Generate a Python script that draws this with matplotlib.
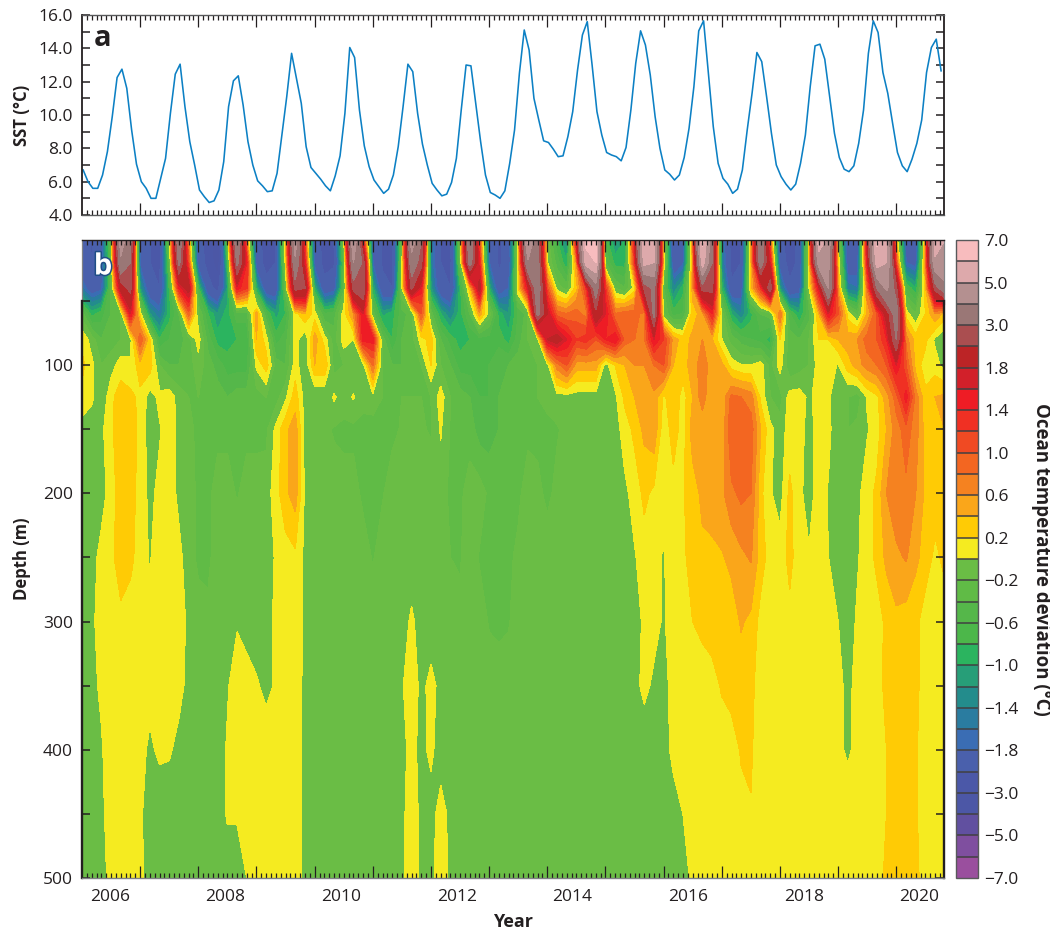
import numpy as np
import matplotlib
matplotlib.use("Agg")
import matplotlib.pyplot as plt
import matplotlib.patheffects as pe
from matplotlib.lines import Line2D
from matplotlib.ticker import FixedLocator

plt.rcParams['font.family'] = ['Open Sans', 'DejaVu Sans']

sst = [6.7, 6.0, 5.6, 5.6, 6.4, 7.8, 9.9, 12.25, 12.75, 11.6, 9.1, 7.05,
       6.0, 5.6, 5.0, 5.0, 6.2, 7.4, 10.1, 12.45, 13.05, 10.5, 8.4, 7.0,
       5.5, 5.1, 4.75, 4.85, 5.5, 7.2, 10.5, 12.05, 12.35, 10.6, 8.4, 7.0,
       6.05, 5.75, 5.4, 5.45, 6.5, 8.8, 11.1, 13.7, 12.2, 10.7, 8.1, 6.85,
       6.5, 6.15, 5.75, 5.45, 6.35, 7.55, 10.1, 14.05, 13.45, 10.3, 8.15, 6.9,
       6.1, 5.7, 5.3, 5.55, 6.4, 8.1, 10.5, 13.05, 12.6, 10.1, 8.25, 7.0,
       5.9, 5.5, 5.15, 5.25, 5.95, 7.4, 10.3, 13.0, 12.95, 10.7, 8.4, 6.4,
       5.35, 5.2, 5.0, 5.45, 7.1, 9.1, 12.5, 15.1, 13.9, 11.0, 9.7, 8.45,
       8.35, 7.95, 7.5, 7.55, 8.7, 10.2, 12.7, 14.8, 15.6, 13.0, 10.2, 8.8,
       7.75, 7.6, 7.5, 7.25, 8.05, 10.3, 13.1, 15.05, 14.2, 12.4, 9.9, 8.0,
       6.7, 6.45, 6.1, 6.4, 7.45, 9.2, 11.7, 15.05, 15.65, 12.5, 9.3, 7.1,
       6.2, 5.85, 5.3, 5.55, 6.7, 9.1, 11.3, 13.75, 13.2, 11.1, 8.9, 7.0,
       6.3, 5.85, 5.5, 5.85, 7.1, 8.8, 11.7, 14.15, 14.25, 13.35, 11.1, 8.9,
       7.45, 6.75, 6.6, 6.95, 8.3, 10.3, 13.7, 15.65, 14.95, 12.55, 11.3, 9.5,
       7.75, 6.95, 6.6, 7.35, 8.3, 9.7, 12.55, 14.05, 14.55, 12.65]

depths = [2.5, 20, 40, 60, 80, 100, 125, 150, 200, 250, 300, 350, 400, 450, 500]

# two-monthly columns, one list per depth
d3 = [-2.0, -2.5, -2.0, -0.3, 4.5, 3.2, -2.0, -2.4, -2.6, -0.2,
      3.8, 0.5, -2.2, -2.6, -3.5, -0.3, 4.0, 0.6, -2.2, -2.6,
      -2.4, 0.3, 4.5, 1.0, -2.1, -2.6, -2.4, -0.1, 5.0, 1.4,
      -1.9, -2.5, -2.6, -0.2, 4.5, 3.0, -1.5, -2.4, -2.6, -0.1,
      3.8, 1.0, -1.9, -2.5, -2.2, 0.2, 5.2, 3.0, -0.1, -0.8,
      -1.4, 1.6, 6.3, 6.5, -0.7, -1.2, -1.0, 1.5, 6.0, 5.5,
      0.0, -2.3, -2.0, 0.6, 6.2, 3.2, -1.5, -2.6, -2.4, 0.3,
      4.0, 0.8, -2.3, -2.6, -2.3, 0.2, 5.5, 4.8, 0.0, -2.3,
      -2.2, 1.8, 6.2, 5.0, 0.3, -2.0, -2.2, 0.5, 5.5, 5.0]
d20 = [-2.2, -2.4, -2.1, -0.3, 3.8, 3.0, -1.9, -2.4, -2.6, -0.4,
       3.2, 1.0, -2.1, -2.6, -3.4, -0.8, 3.2, 1.4, -2.1, -2.6,
       -2.4, 0.1, 3.8, 1.4, -2.0, -2.6, -2.5, -0.5, 4.0, 2.8,
       -1.8, -2.5, -2.6, -0.1, 3.6, 2.6, -1.5, -2.4, -2.6, -0.3,
       3.4, 1.4, -1.8, -2.5, -2.2, 0.1, 3.8, 3.4, 0.0, -0.5,
       -1.0, 0.6, 5.5, 6.0, -0.4, -0.9, -0.9, 1.2, 5.3, 5.0,
       0.2, -2.2, -1.9, 0.5, 5.5, 3.0, -1.4, -2.6, -2.4, 0.3,
       3.5, 1.5, -2.1, -2.6, -2.3, 0.2, 4.5, 4.2, 0.2, -2.1,
       -2.0, 1.5, 5.5, 5.0, 1.0, -1.8, -2.0, 0.6, 4.8, 5.0]
d40 = [-1.6, -2.1, -1.9, -0.4, 2.0, 2.6, -1.2, -2.2, -2.4, -0.8,
       1.4, 2.0, -0.8, -2.2, -2.6, -1.2, 1.5, 1.2, -1.0, -2.2,
       -2.2, -0.3, 2.6, 2.4, -1.0, -2.2, -2.0, -0.5, 2.6, 3.0,
       -1.0, -2.2, -2.4, 0.0, 2.5, 1.5, -1.2, -2.2, -2.4, -0.9,
       0.3, 2.0, -1.0, -2.2, -1.8, 0.2, 1.6, 3.6, 1.0, -0.1,
       -0.3, 0.3, 1.2, 3.5, 1.2, -0.2, -0.4, 0.1, 2.5, 3.2,
       -0.4, -1.4, -0.9, 0.5, 2.6, 2.6, -0.9, -2.3, -2.1, 0.3,
       1.2, 2.8, -1.2, -2.3, -2.0, 0.0, 1.6, 4.0, 0.5, -1.5,
       -1.6, 0.8, 3.0, 4.2, 2.5, -0.6, -1.0, 0.3, 2.6, 3.6]
d60 = [-0.3, -0.9, -0.7, -0.4, -0.2, 1.6, 0.1, -1.2, -1.6, -0.9,
       -0.4, 0.9, -0.2, -0.8, -1.2, -0.9, -0.5, -0.5, 0.5, -0.6,
       -1.1, -0.8, 0.1, 0.4, 0.1, -0.6, -0.5, 0.1, 0.6, 1.6,
       -0.3, -1.1, -0.9, -0.5, -0.3, 1.0, -0.3, -1.0, -1.4, -0.9,
       -0.4, 0.5, -0.1, -0.9, -1.2, -0.6, -0.3, 3.2, 1.8, 0.9,
       0.8, 0.9, 0.7, 2.2, 1.6, 0.8, 0.9, 0.9, 0.7, 3.2,
       -0.2, -0.7, -0.6, 0.3, 0.5, 1.4, -0.1, -1.0, -1.4, -0.9,
       -0.4, -0.3, 0.8, -0.6, -1.0, -0.5, 0.4, 1.6, 1.0, 0.1,
       -0.3, 0.4, 1.0, 2.0, 3.5, 0.1, -0.2, 0.2, 0.6, 0.3]
d80 = [0.15, -0.1, -0.4, -0.3, -0.2, -0.1, 1.0, 0.2, -0.8, -0.6,
       -0.5, -0.3, 0.1, -0.5, -0.9, -0.9, -0.8, -0.8, 0.4, 0.1,
       -0.7, -0.5, 0.1, -0.2, 0.5, 0.1, -0.3, 0.1, 0.0, 1.5,
       1.5, -0.3, -0.8, -0.4, -0.3, 0.1, 0.3, -0.4, -0.7, -0.9,
       -0.8, -0.7, -0.7, -0.7, -0.9, -0.5, -0.2, -0.1, 1.8, 2.0,
       1.6, 1.2, 1.3, 1.0, 1.4, 1.6, 0.9, 0.8, 0.8, 1.6,
       1.2, 0.5, 0.3, 0.45, 0.6, 0.4, 0.0, -0.3, -0.5, -0.6,
       -0.7, -0.9, 0.2, -0.3, -0.4, -0.2, 0.2, 0.2, 0.4, 0.5,
       0.6, 0.9, 1.0, 1.4, 3.0, 0.7, 0.3, 0.25, -0.05, -0.2]
d100 = [0.25, 0.05, -0.2, -0.1, 0.1, 0.05, 0.3, 0.3, -0.2, -0.4,
        -0.4, -0.3, -0.1, -0.3, -0.5, -0.7, -0.7, -0.7, 0.05, 0.3,
        -0.3, -0.4, 0.1, -0.2, 0.4, 0.4, -0.3, -0.2, -0.2, -0.1,
        0.8, -0.2, -0.4, -0.4, -0.3, -0.2, 0.2, -0.2, -0.4, -0.7,
        -0.7, -0.8, -0.6, -0.4, -0.4, -0.3, -0.2, -0.2, -0.1, 0.7,
        1.0, 0.5, 0.5, 0.5, -0.1, 0.2, 0.4, 0.6, 0.6, 0.8,
        1.0, 0.4, 0.3, 0.5, 0.7, 0.5, 0.45, 0.1, 0.0, 0.0,
        0.1, -0.3, 0.1, -0.4, -0.3, -0.2, 0.1, 0.1, -0.02, 0.3,
        0.5, 0.7, 0.8, 1.0, 1.6, 1.0, 0.3, 0.1, 0.1, -0.1]
d125 = [0.15, 0.05, -0.2, 0.15, 0.3, 0.25, 0.15, -0.1, 0.05, 0.12,
        -0.1, -0.2, -0.2, -0.3, -0.3, -0.4, -0.3, -0.3, -0.3, -0.2,
        -0.3, -0.05, 0.3, -0.1, -0.2, -0.2, 0.03, -0.1, 0.02, -0.15,
        -0.1, -0.2, -0.2, -0.2, -0.2, -0.2, -0.2, 0.1, -0.2, -0.3,
        -0.4, -0.6, -0.6, -0.4, -0.3, -0.25, -0.2, -0.2, -0.15, -0.1,
        -0.1, -0.1, -0.1, -0.1, -0.1, -0.05, 0.25, 0.4, 0.5, 0.55,
        0.15, 0.35, 0.1, 0.4, 0.7, 0.4, 0.45, 0.85, 0.8, 0.7,
        0.15, -0.2, -0.3, 0.1, 0.1, -0.05, 0.1, 0.02, -0.1, -0.2,
        -0.3, 0.02, 0.15, 0.5, 0.9, 1.5, 0.7, 0.25, 0.4, 0.45]
d150 = [-0.1, -0.15, -0.05, 0.15, 0.35, 0.35, 0.12, -0.1, -0.02, 0.1,
        -0.05, -0.15, -0.25, -0.25, -0.25, -0.25, -0.25, -0.25, -0.25, -0.25,
        0.05, 0.35, 0.5, -0.1, -0.18, -0.16, -0.22, -0.25, -0.25, -0.25,
        -0.28, -0.28, -0.25, -0.18, -0.15, -0.18, -0.22, 0.02, -0.22, -0.25,
        -0.3, -0.5, -0.5, -0.4, -0.3, -0.25, -0.25, -0.25, -0.25, -0.22,
        -0.15, -0.15, -0.15, -0.15, -0.15, -0.1, 0.1, 0.25, 0.45, 0.55,
        0.05, 0.3, 0.1, 0.5, 0.45, 0.45, 0.4, 1.0, 0.9, 0.9,
        0.4, 0.05, -0.1, 0.08, 0.1, -0.1, 0.1, 0.05, -0.15, -0.2,
        -0.15, -0.02, 0.1, 0.4, 0.7, 0.9, 0.7, 0.3, 0.3, 0.4]
d200 = [-0.05, -0.1, -0.1, 0.1, 0.3, 0.3, 0.1, -0.05, 0.05, 0.1,
        -0.05, -0.1, -0.25, -0.25, -0.12, -0.12, -0.22, -0.12, -0.12, -0.1,
        0.1, 0.35, 0.5, -0.05, -0.1, -0.12, -0.12, -0.12, -0.12, -0.25,
        -0.25, -0.22, -0.1, -0.1, -0.1, -0.1, -0.1, -0.1, -0.25, -0.25,
        -0.1, -0.1, -0.25, -0.3, -0.25, -0.25, -0.1, -0.15, -0.25, -0.15,
        -0.1, -0.1, -0.1, -0.1, -0.1, -0.1, -0.05, 0.08, 0.25, 0.15,
        0.1, 0.12, 0.18, 0.3, 0.45, 0.5, 0.55, 0.75, 0.85, 0.8,
        0.25, 0.02, -0.1, 0.25, 0.05, -0.1, 0.1, -0.02, -0.1, -0.1,
        -0.05, 0.1, 0.25, 0.6, 0.75, 0.75, 0.6, 0.35, 0.3, 0.3]
d250 = [-0.1, -0.1, 0.08, 0.15, 0.3, 0.25, 0.1, -0.02, 0.12, 0.12,
        0.05, -0.1, -0.25, -0.25, -0.1, -0.1, -0.1, -0.1, -0.1, -0.1,
        0.02, 0.1, 0.15, -0.05, -0.1, -0.1, -0.1, -0.1, -0.1, -0.1,
        -0.22, -0.1, -0.1, -0.1, -0.1, -0.1, -0.1, -0.1, -0.2, -0.22,
        -0.1, -0.22, -0.22, -0.25, -0.25, -0.15, -0.1, -0.1, -0.1, -0.1,
        -0.1, -0.1, -0.1, -0.1, -0.1, -0.1, -0.1, -0.02, 0.1, 0.05,
        -0.02, 0.12, 0.15, 0.3, 0.35, 0.35, 0.38, 0.45, 0.55, 0.62,
        0.3, 0.1, 0.1, 0.25, 0.1, 0.02, 0.1, 0.0, -0.1, -0.1,
        -0.02, 0.1, 0.25, 0.45, 0.55, 0.62, 0.45, 0.3, 0.15, 0.25]
d300 = [-0.1, -0.05, 0.1, 0.2, 0.15, 0.1, 0.1, 0.05, 0.1, 0.1,
        0.1, -0.05, -0.1, -0.15, -0.1, -0.05, -0.02, -0.1, -0.1, -0.1,
        0.05, 0.1, 0.12, -0.05, -0.1, -0.1, -0.1, -0.1, -0.1, -0.1,
        -0.1, -0.1, -0.1, -0.08, 0.03, -0.08, -0.1, -0.05, -0.15, -0.15,
        -0.15, -0.1, -0.22, -0.25, -0.22, -0.1, -0.1, -0.1, -0.1, -0.1,
        -0.1, -0.1, -0.1, -0.1, -0.1, -0.1, -0.1, -0.05, 0.02, 0.05,
        -0.02, 0.08, 0.12, 0.2, 0.25, 0.3, 0.35, 0.3, 0.42, 0.35,
        0.12, 0.1, 0.1, 0.15, 0.1, 0.1, 0.1, 0.08, 0.0, -0.1,
        0.03, 0.1, 0.1, 0.25, 0.35, 0.3, 0.25, 0.1, 0.1, 0.1]
d350 = [-0.1, -0.05, 0.03, 0.1, 0.1, 0.1, 0.1, 0.05, 0.1, 0.1,
        0.05, -0.05, -0.1, -0.1, -0.05, -0.02, 0.1, 0.1, 0.02, -0.05,
        0.02, 0.1, 0.1, -0.05, -0.1, -0.1, -0.1, -0.1, -0.1, -0.1,
        -0.1, -0.1, -0.1, -0.02, 0.1, -0.05, 0.05, -0.05, -0.1, -0.1,
        -0.1, -0.1, -0.1, -0.1, -0.1, -0.1, -0.1, -0.1, -0.1, -0.1,
        -0.1, -0.1, -0.1, -0.1, -0.1, -0.1, -0.1, -0.05, 0.04, -0.03,
        -0.05, 0.05, 0.1, 0.1, 0.1, 0.12, 0.22, 0.28, 0.3, 0.25,
        0.1, 0.1, 0.1, 0.1, 0.1, 0.1, 0.1, 0.1, 0.05, -0.05,
        0.06, 0.1, 0.12, 0.25, 0.3, 0.3, 0.25, 0.1, 0.1, 0.1]
d400 = [-0.1, -0.1, -0.02, 0.1, 0.1, 0.1, 0.05, -0.03, 0.03, 0.02,
        -0.05, -0.1, -0.1, -0.1, -0.1, 0.02, 0.1, 0.1, 0.1, 0.1,
        0.1, 0.1, 0.1, -0.05, -0.1, -0.1, -0.1, -0.1, -0.1, -0.1,
        -0.1, -0.1, -0.1, -0.05, 0.05, -0.05, 0.04, -0.1, -0.1, -0.1,
        -0.1, -0.1, -0.1, -0.1, -0.1, -0.1, -0.1, -0.1, -0.1, -0.1,
        -0.1, -0.1, -0.1, -0.1, -0.1, -0.1, -0.1, -0.1, -0.1, -0.1,
        -0.05, 0.03, 0.1, 0.1, 0.1, 0.1, 0.1, 0.1, 0.22, 0.22,
        0.1, 0.1, 0.1, 0.1, 0.1, 0.1, 0.1, 0.1, 0.04, -0.03,
        0.05, 0.08, 0.12, 0.2, 0.3, 0.3, 0.22, 0.1, 0.1, 0.1]
d450 = [-0.1, -0.1, -0.05, 0.1, 0.1, 0.1, 0.03, -0.1, -0.1, -0.1,
        -0.1, -0.1, -0.1, -0.1, -0.1, 0.02, 0.02, 0.05, 0.1, 0.1,
        0.1, 0.1, 0.1, -0.05, -0.1, -0.1, -0.1, -0.1, -0.1, -0.1,
        -0.1, -0.1, -0.1, -0.05, 0.1, -0.05, -0.08, 0.08, -0.05, -0.1,
        -0.1, -0.1, -0.1, -0.1, -0.1, -0.1, -0.1, -0.1, -0.1, -0.1,
        -0.1, -0.1, -0.1, -0.1, -0.1, -0.1, -0.1, -0.1, -0.1, -0.1,
        -0.1, -0.05, 0.0, 0.1, 0.1, 0.1, 0.1, 0.1, 0.14, 0.19,
        0.1, 0.1, 0.1, 0.1, 0.1, 0.1, 0.1, 0.1, 0.1, 0.1,
        0.1, 0.1, 0.12, 0.2, 0.3, 0.3, 0.22, 0.1, 0.1, 0.1]
d500 = [-0.1, -0.1, -0.1, 0.08, 0.1, 0.1, 0.04, -0.08, -0.1, -0.1,
        -0.1, -0.1, -0.1, -0.1, -0.1, -0.1, -0.1, 0.0, 0.1, 0.1,
        0.1, 0.1, 0.1, -0.05, -0.1, -0.1, -0.1, -0.1, -0.1, -0.1,
        -0.1, -0.1, -0.1, -0.05, 0.1, -0.05, -0.05, 0.1, -0.05, -0.1,
        -0.1, -0.1, -0.1, -0.1, -0.1, -0.1, -0.1, -0.1, -0.1, -0.1,
        -0.1, -0.1, -0.1, -0.1, -0.1, -0.1, -0.1, -0.1, -0.1, -0.1,
        -0.1, -0.1, -0.04, 0.02, 0.1, 0.1, 0.1, 0.1, 0.1, 0.1,
        0.1, 0.1, 0.1, 0.1, 0.1, 0.1, 0.1, 0.1, 0.1, 0.1,
        0.1, 0.1, 0.1, 0.25, 0.3, 0.3, 0.25, 0.1, 0.1, 0.1]

levels = [-7, -6, -5, -4, -3, -2.4, -1.8, -1.6, -1.4, -1.2, -1, -0.8, -0.6, -0.4, -0.2, 0,
          0.2, 0.4, 0.6, 0.8, 1, 1.2, 1.4, 1.6, 1.8, 2.4, 3, 4, 5, 6, 7]
level_colors = ['#9A4F9E', '#7F4F9F', '#6150A0', '#4C57A6', '#4B58A8', '#4A60AC', '#3A6DB4',
                '#2A7CA0', '#238C8C', '#279E78', '#2BB45F', '#4CB74A', '#55B74A', '#60BB46',
                '#6ABD45', '#F5EB20', '#FFCB05', '#FAA61A', '#F58220', '#F36621', '#F04A23',
                '#F03023', '#EE1C25', '#D2202A', '#BC2426', '#AA4E50', '#9A7776', '#B49090',
                '#DDA9AB', '#F8BCBE']
cbar_labels = ['\u22127.0', '\u22125.0', '\u22123.0', '\u22121.8', '\u22121.4', '\u22121.0', '\u22120.6', '\u22120.2',
               '0.2', '0.6', '1.0', '1.4', '1.8', '3.0', '5.0', '7.0']
year_labels = [2006, 2008, 2010, 2012, 2014, 2016, 2018, 2020]

W, H = 1050, 932
INK = '#231F20'
xlim = (2005.5, 2020.32)


def box(left, top, right, bottom):
    return [left / W, 1 - bottom / H, (right - left) / W, (bottom - top) / H]


def month_ticks(ax):
    ax.xaxis.set_major_locator(FixedLocator(np.arange(2006.5, 2020.4, 1.0)))
    ax.xaxis.set_minor_locator(FixedLocator(2005.5 + np.arange(1, 178) / 12))
    ax.tick_params(axis='x', which='major', direction='in', top=True, bottom=True,
                   length=8.5, width=0.9, color=INK, labelbottom=False)
    ax.tick_params(axis='x', which='minor', direction='in', top=True, bottom=True,
                   length=3.8, width=0.9, color=INK)


fig = plt.figure(figsize=(W / 100, H / 100), dpi=100)

# panel a
ax1 = fig.add_axes(box(82, 15, 944, 215))
t_sst = 2005.52 + np.arange(len(sst)) / 12
ax1.plot(t_sst, sst, color='#0C80C4', lw=1.15)
ax1.set_xlim(xlim)
ax1.set_ylim(4, 16)
month_ticks(ax1)
ax1.set_yticks(np.arange(4, 16.1, 2))
ax1.set_yticks(np.arange(5, 16, 2), minor=True)
ax1.set_yticklabels([f'{v:.1f}' for v in np.arange(4, 16.1, 2)], fontsize=12.5, color=INK)
ax1.tick_params(axis='y', which='both', direction='in', left=True, right=True,
                length=5.5, width=1.1, color=INK, pad=6.5)
ax1.set_ylabel('SST (°C)', fontsize=12, fontweight='bold', color=INK)
ax1.yaxis.set_label_coords((31 - 82) / 862, 0.5)
for side, w, col in [('left', 1.3, INK), ('right', 1.3, INK), ('top', 1.0, '#58595B'), ('bottom', 1.0, '#58595B')]:
    ax1.spines[side].set_linewidth(w)
    ax1.spines[side].set_color(col)
ax1.text((103 - 82) / 862, (215 - 39) / 200, 'a', transform=ax1.transAxes, fontsize=21,
         fontweight='bold', color=INK, ha='center', va='center')

# panel b
ax2 = fig.add_axes(box(82, 240, 944, 878))
t_grid = 2005.5 + np.arange(90) / 6
temp = np.array([d3, d20, d40, d60, d80, d100, d125, d150, d200, d250, d300, d350, d400, d450, d500])
cs = ax2.contourf(t_grid, depths, temp, levels=levels, colors=level_colors)
cs.set_edgecolor('face')
cs.set_linewidth(0.3)
ax2.set_xlim(xlim)
ax2.set_ylim(500, 2.5)
month_ticks(ax2)
ax2.set_yticks(np.arange(50, 501, 50))
ax2.set_yticklabels(['', '100', '', '200', '', '300', '', '400', '', '500'], fontsize=12.5, color=INK)
ax2.tick_params(axis='y', which='major', direction='in', left=True, right=True,
                length=5.5, width=1.1, color=INK, pad=6.5)
ax2.set_ylabel('Depth (m)', fontsize=12, fontweight='bold', color=INK)
ax2.yaxis.set_label_coords((31 - 82) / 862, 0.5)
ax2.spines['top'].set_color(INK)
ax2.spines['top'].set_linewidth(1.0)
ax2.spines['bottom'].set_color('#808285')
ax2.spines['bottom'].set_linewidth(1.0)
for side in ['left', 'right']:
    ax2.spines[side].set_bounds(50, 500)
    ax2.spines[side].set_linewidth(1.7)
    ax2.spines[side].set_color(INK)
    xa = 0 if side == 'left' else 1
    ax2.add_line(Line2D([xa, xa], [1, 0.9], transform=ax2.transAxes, color='#808285',
                        lw=0.9, clip_on=False))
for yr in year_labels:
    ax2.text(2005.98 + (yr - 2006) * 0.994, 500 + 11 / 1.2825, str(yr),
             fontsize=12.5, color=INK, ha='center', va='top')
ax2.set_xlabel('Year', fontsize=13, fontweight='bold', color=INK)
ax2.xaxis.set_label_coords(0.5, -(922 - 878) / 638)
ax2.xaxis.label.set_va('center')
ax2.text((103 - 82) / 862, (878 - 267) / 638, 'b', transform=ax2.transAxes, fontsize=21,
         fontweight='bold', color='white', ha='center', va='center',
         path_effects=[pe.withStroke(linewidth=2.2, foreground='#1F4E86')])

# colour bar
cax = fig.add_axes(box(956, 240, 978, 878))
cbar = fig.colorbar(cs, cax=cax, ticks=levels[::2], drawedges=True)
cbar.ax.set_yticklabels(cbar_labels, fontsize=12.5, color=INK)
cbar.ax.tick_params(length=0, pad=4.5)
cbar.ax.minorticks_off()
cbar.dividers.set_color('#414042')
cbar.dividers.set_linewidth(1.1)
cbar.outline.set_edgecolor('#58595B')
cbar.outline.set_linewidth(1.0)
fig.text(1041 / W, 1 - 559 / H, 'Ocean temperature deviation (°C)', rotation=270, fontsize=13.4,
         fontweight='bold', color=INK, ha='center', va='center')

fig.savefig('out.png', dpi=100)
